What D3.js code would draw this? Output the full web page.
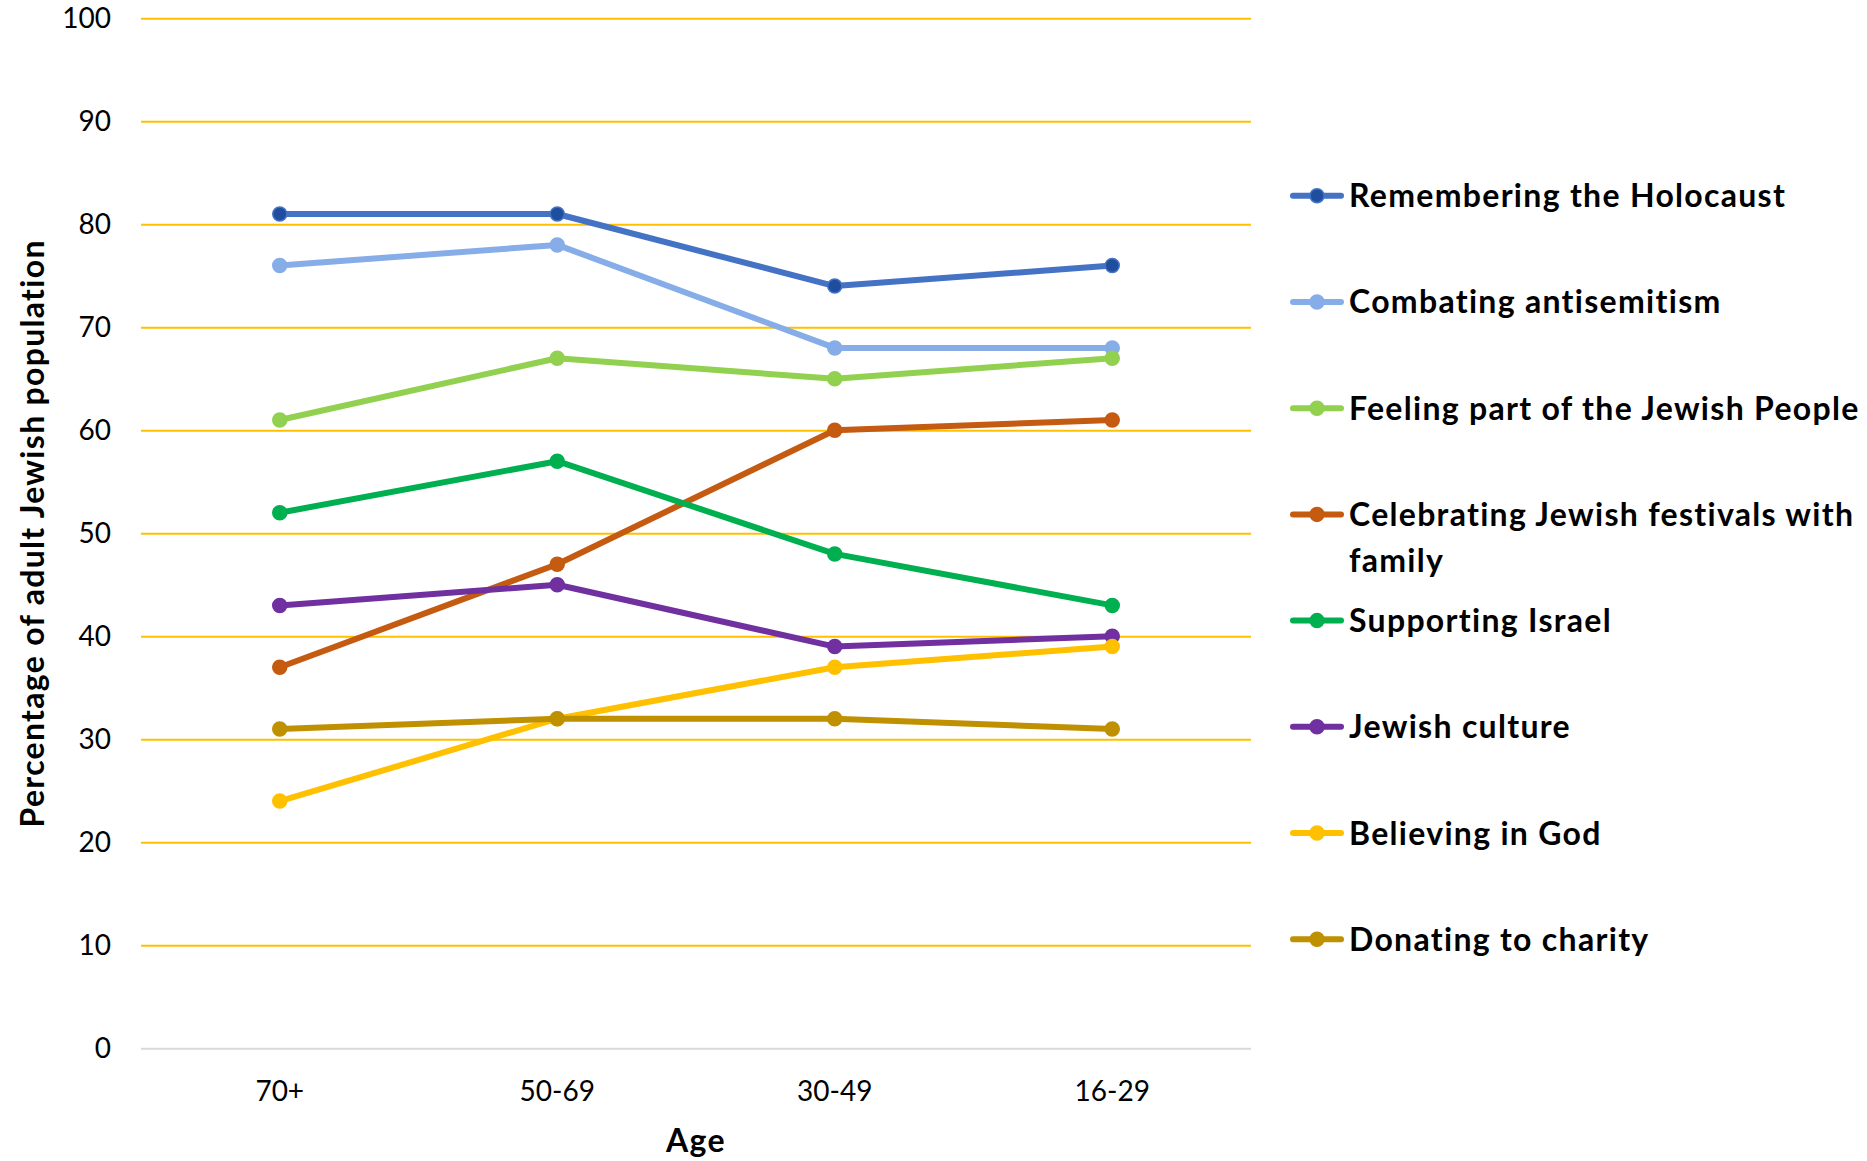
<!DOCTYPE html>
<html>
<head>
<meta charset="utf-8">
<script src="https://cdn.jsdelivr.net/npm/d3@7"></script>
<style>
  html, body { margin: 0; padding: 0; background: #fff; }
  svg { display: block; }
</style>
</head>
<body>
<script>
const categories = ["70+", "50-69", "30-49", "16-29"];
const seriesNames = [
  "Remembering the Holocaust",
  "Combating antisemitism",
  "Feeling part of the Jewish People",
  "Celebrating Jewish festivals with family",
  "Supporting Israel",
  "Jewish culture",
  "Believing in God",
  "Donating to charity"
];
const holocaust = [81, 81, 74, 76];
const antisemitism = [76, 78, 68, 68];
const jewishPeople = [61, 67, 65, 67];
const festivals = [37, 47, 60, 61];
const israel = [52, 57, 48, 43];
const culture = [43, 45, 39, 40];
const god = [24, 32, 37, 39];
const charity = [31, 32, 32, 31];
const seriesValues = [holocaust, antisemitism, jewishPeople, festivals, israel, culture, god, charity];
const lineColors = ["#4472C4", "#86ADE8", "#92D050", "#C55A11", "#00B050", "#7030A0", "#FFC000", "#BF9000"];
const markerFills = ["#1F4E9F", "#86ADE8", "#92D050", "#C55A11", "#00B050", "#7030A0", "#FFC000", "#BF9000"];
const yTicks = [0, 10, 20, 30, 40, 50, 60, 70, 80, 90, 100];
const yTitle = "Percentage of adult Jewish population";
const xTitle = "Age";

const W = 1867, H = 1161;
const pLeft = 141, pRight = 1251, pTop = 18.3, pBottom = 1048.3;

const svg = d3.select("body").append("svg").attr("width", W).attr("height", H);

const x = d3.scaleBand().domain(categories).range([pLeft, pRight]).padding(0);
const y = d3.scaleLinear().domain([0, 100]).range([pBottom, pTop]);

const font = "Lato, 'Open Sans', sans-serif";
const boldStyle = sel => sel
  .attr("font-family", font).attr("font-weight", "bold")
  .attr("font-size", 32).attr("letter-spacing", 1.3).attr("fill", "#000");

// gridlines
const grid = svg.append("g")
  .attr("transform", `translate(${pLeft},0)`)
  .call(d3.axisLeft(y).tickValues(yTicks).tickSize(-(pRight - pLeft)).tickFormat(""));
grid.select(".domain").remove();
grid.selectAll(".tick line")
  .attr("stroke", d => d === 0 ? "#D9D9D9" : "#FFC000")
  .attr("stroke-width", 2);

// y tick labels
const yAxis = svg.append("g")
  .attr("transform", `translate(${pLeft},0)`)
  .call(d3.axisLeft(y).tickValues(yTicks).tickSize(0).tickPadding(30));
yAxis.select(".domain").remove();
yAxis.selectAll("text")
  .attr("font-family", font).attr("font-size", 28).attr("fill", "#000");

// x tick labels
const xAxis = svg.append("g")
  .attr("transform", `translate(0,${pBottom})`)
  .call(d3.axisBottom(x).tickSize(0).tickPadding(33));
xAxis.select(".domain").remove();
xAxis.selectAll("text")
  .attr("font-family", font).attr("font-size", 28).attr("fill", "#000");

// axis titles
svg.append("text")
  .attr("transform", `translate(44,${(pTop + pBottom) / 2}) rotate(-90)`)
  .attr("text-anchor", "middle")
  .call(boldStyle)
  .text(yTitle);
svg.append("text")
  .attr("x", (pLeft + pRight) / 2).attr("y", 1152)
  .attr("text-anchor", "middle")
  .call(boldStyle)
  .text(xTitle);

// lines
const line = d3.line()
  .x((d, i) => x(categories[i]) + x.bandwidth() / 2)
  .y(d => y(d));

seriesValues.forEach((vals, s) => {
  const g = svg.append("g");
  g.append("path")
    .attr("d", line(vals))
    .attr("fill", "none")
    .attr("stroke", lineColors[s])
    .attr("stroke-width", 6)
    .attr("stroke-linejoin", "round")
    .attr("stroke-linecap", "round");
  g.selectAll("circle").data(vals).join("circle")
    .attr("cx", (d, i) => x(categories[i]) + x.bandwidth() / 2)
    .attr("cy", d => y(d))
    .attr("r", 7)
    .attr("fill", markerFills[s])
    .attr("stroke", lineColors[s])
    .attr("stroke-width", 1.5);
});

// legend
const legY = d3.scaleLinear().domain([0, seriesNames.length - 1]).range([195.7, 939.3]);
const legX0 = 1293, legX1 = 1341, textX = 1349, maxW = 514;
seriesNames.forEach((name, s) => {
  const cy = legY(s);
  const g = svg.append("g");
  g.append("line")
    .attr("x1", legX0).attr("x2", legX1).attr("y1", cy).attr("y2", cy)
    .attr("stroke", lineColors[s]).attr("stroke-width", 6).attr("stroke-linecap", "round");
  g.append("circle")
    .attr("cx", (legX0 + legX1) / 2).attr("cy", cy).attr("r", 7)
    .attr("fill", markerFills[s]).attr("stroke", lineColors[s]).attr("stroke-width", 1.5);
  const t = g.append("text")
    .attr("x", textX).attr("y", cy).attr("dy", "0.36em")
    .call(boldStyle);
  const words = name.split(" ");
  let lineWords = [];
  let tspan = t.append("tspan").attr("x", textX);
  words.forEach(w => {
    lineWords.push(w);
    tspan.text(lineWords.join(" "));
    if (tspan.node().getComputedTextLength() > maxW && lineWords.length > 1) {
      lineWords.pop();
      tspan.text(lineWords.join(" "));
      lineWords = [w];
      tspan = t.append("tspan").attr("x", textX).attr("dy", 45.7).text(w);
    }
  });
});
</script>
</body>
</html>
